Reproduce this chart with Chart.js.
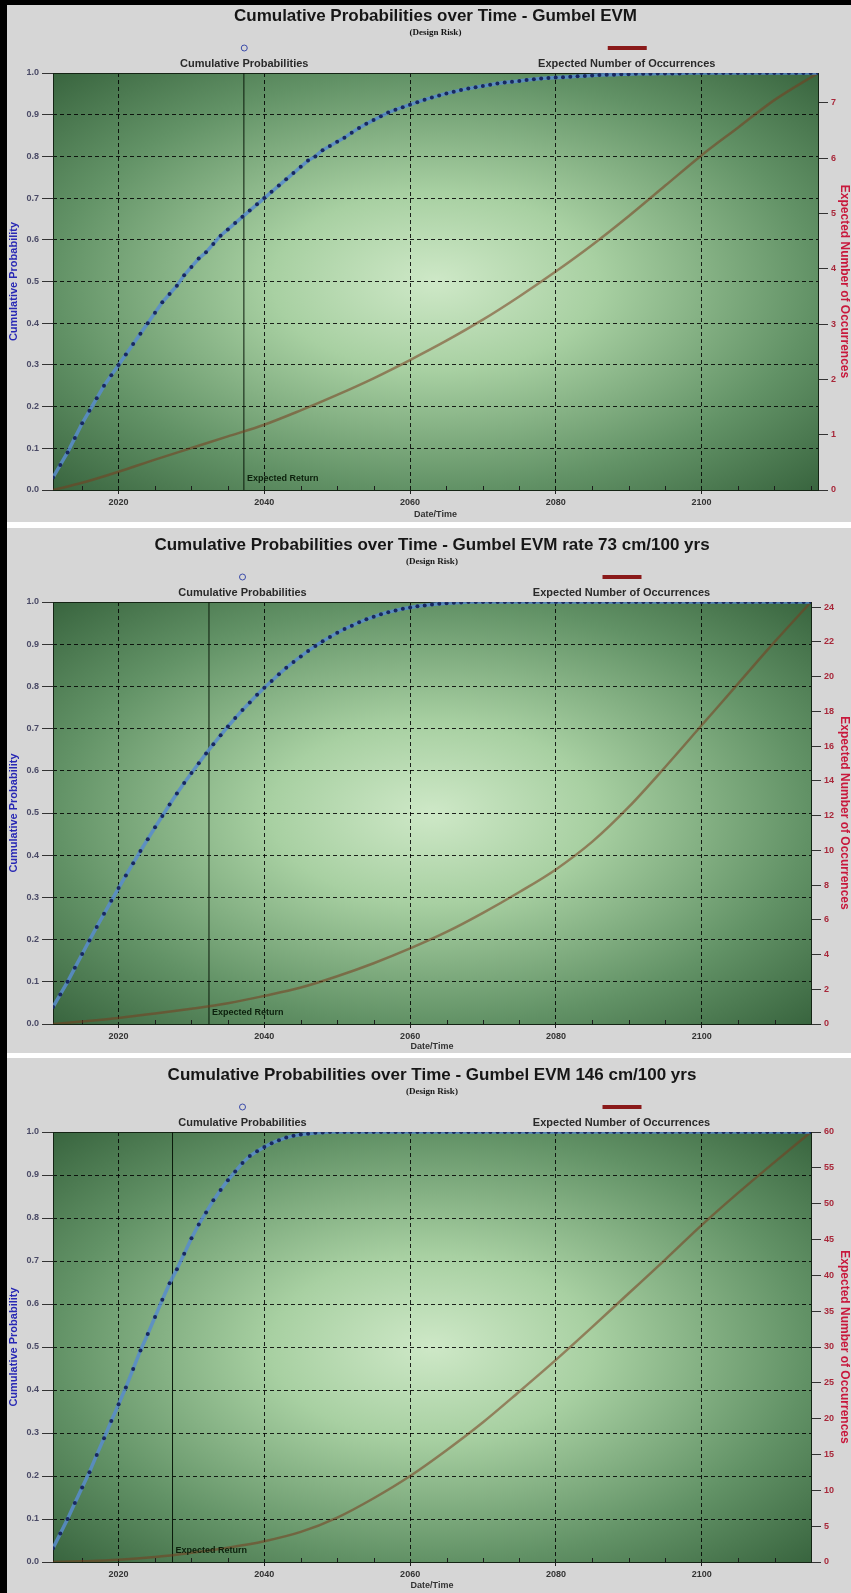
<!DOCTYPE html>
<html>
<head>
<meta charset="utf-8">
<script src="https://cdn.jsdelivr.net/npm/chart.js@4.4.0/dist/chart.umd.min.js"></script>
<style>
  body { margin: 0; background: #000; width: 851px; height: 1593px; overflow: hidden; }
  #sheet { position: absolute; left: 7px; top: 5px; width: 844px; height: 1588px; background: #fff; }
  canvas { position: absolute; left: 0; background: #d6d6d6; }
</style>
</head>
<body>
<div id="sheet">
  <canvas id="c1" width="844" height="517" style="top:0px"></canvas>
  <canvas id="c2" width="844" height="525" style="top:523px"></canvas>
  <canvas id="c3" width="844" height="535" style="top:1053px"></canvas>
</div>
<script>
var years = [2011,2012,2013,2014,2015,2016,2017,2018,2019,2020,
  2021,2022,2023,2024,2025,2026,2027,2028,2029,2030,
  2031,2032,2033,2034,2035,2036,2037,2038,2039,2040,
  2041,2042,2043,2044,2045,2046,2047,2048,2049,2050,
  2051,2052,2053,2054,2055,2056,2057,2058,2059,2060,
  2061,2062,2063,2064,2065,2066,2067,2068,2069,2070,
  2071,2072,2073,2074,2075,2076,2077,2078,2079,2080,
  2081,2082,2083,2084,2085,2086,2087,2088,2089,2090,
  2091,2092,2093,2094,2095,2096,2097,2098,2099,2100,
  2101,2102,2103,2104,2105,2106,2107,2108,2109,2110,
  2111,2112,2113,2114,2115,2116];

// cumulative probability, one value per year
var cumProb1 = [0.03,0.06,0.09,0.125,0.16,0.19,0.22,0.25,0.275,0.30,
  0.325,0.35,0.375,0.40,0.425,0.45,0.47,0.49,0.515,0.535,
  0.555,0.57,0.59,0.61,0.625,0.64,0.655,0.67,0.685,0.70,
  0.715,0.73,0.745,0.76,0.775,0.79,0.80,0.815,0.825,0.835,
  0.845,0.857,0.868,0.878,0.887,0.896,0.905,0.912,0.918,0.924,
  0.93,0.936,0.941,0.946,0.951,0.955,0.959,0.963,0.966,0.969,
  0.972,0.975,0.977,0.979,0.981,0.983,0.985,0.987,0.988,0.989,
  0.99,0.991,0.992,0.993,0.994,0.995,0.996,0.996,0.997,0.997,
  0.998,0.998,0.998,0.999,0.999,0.999,0.999,1,1,1,
  1,1,1,1,1,1,1,1,1,1,
  1,1,1,1,1,1];
var cumProb2 = [0.04,0.07,0.10,0.133,0.166,0.198,0.23,0.261,0.292,0.322,
  0.352,0.381,0.41,0.438,0.466,0.493,0.52,0.546,0.571,0.595,
  0.618,0.641,0.663,0.684,0.705,0.725,0.744,0.762,0.78,0.797,
  0.813,0.829,0.844,0.858,0.871,0.884,0.896,0.907,0.917,0.927,
  0.936,0.944,0.952,0.959,0.965,0.971,0.976,0.98,0.984,0.987,
  0.99,0.992,0.994,0.996,0.997,0.998,0.999,1,1,1,
  1,1,1,1,1,1,1,1,1,1,
  1,1,1,1,1,1,1,1,1,1,
  1,1,1,1,1,1,1,1,1,1,
  1,1,1,1,1,1,1,1,1,1,
  1,1,1,1,1,1];
var cumProb3 = [0.032,0.066,0.10,0.137,0.173,0.209,0.249,0.288,0.328,0.367,
  0.406,0.449,0.492,0.53,0.57,0.61,0.648,0.681,0.717,0.753,
  0.785,0.813,0.841,0.865,0.888,0.908,0.928,0.944,0.955,0.965,
  0.974,0.981,0.987,0.991,0.994,0.996,0.998,0.999,1,1,
  1,1,1,1,1,1,1,1,1,1,
  1,1,1,1,1,1,1,1,1,1,
  1,1,1,1,1,1,1,1,1,1,
  1,1,1,1,1,1,1,1,1,1,
  1,1,1,1,1,1,1,1,1,1,
  1,1,1,1,1,1,1,1,1,1,
  1,1,1,1,1,1];

// expected number of occurrences
var occYears1 = [2011,2015,2020,2025,2030,2035,2040,2045,2050,2055,2060,2065,2070,2075,2080,2085,2090,2095,2100,2105,2110,2116];
var occYears2 = [2011,2015,2020,2025,2030,2035,2040,2045,2050,2055,2060,2065,2070,2075,2080,2085,2090,2095,2100,2105,2110,2115];
var occ1 = [0,0.13,0.33,0.55,0.76,0.97,1.18,1.44,1.72,2.02,2.35,2.70,3.08,3.50,3.95,4.43,4.95,5.50,6.05,6.55,7.05,7.54];
var occ2 = [0,0.15,0.35,0.6,0.88,1.2,1.62,2.1,2.75,3.5,4.35,5.3,6.4,7.6,8.9,10.5,12.5,14.8,17.2,19.6,22.0,24.3];
var occ3 = [0,0.1,0.3,0.7,1.3,2.0,2.9,4.2,6.2,8.9,12.0,15.6,19.5,23.8,28.2,32.8,37.5,42.2,47.0,51.5,55.8,60];

var returnYears = [2037.2, 2032.4, 2027.4];
var xMax = [2116, 2115, 2115];
var titles = ['Cumulative Probabilities over Time - Gumbel EVM',
  'Cumulative Probabilities over Time - Gumbel EVM rate 73 cm/100 yrs',
  'Cumulative Probabilities over Time - Gumbel EVM 146 cm/100 yrs'];
var subtitleText = '(Design Risk)';
var seriesNames = ['Cumulative Probabilities', 'Expected Number of Occurrences'];

var xTicks = [2020, 2040, 2060, 2080, 2100];
var probTicks = [0, 0.1, 0.2, 0.3, 0.4, 0.5, 0.6, 0.7, 0.8, 0.9, 1];
var occTicks1 = [0, 1, 2, 3, 4, 5, 6, 7];
var occTicks2 = [0, 2, 4, 6, 8, 10, 12, 14, 16, 18, 20, 22, 24];
var occTicks3 = [0, 5, 10, 15, 20, 25, 30, 35, 40, 45, 50, 55, 60];
var occMax = [7.54, 24.3, 60];

Chart.defaults.font.family = '"Liberation Sans", Arial, sans-serif';

function pts(xs, ys, maxX) {
  return xs.map(function (x, i) { return {x: x, y: ys[i]}; })
    .filter(function (p) { return p.x <= maxX; });
}

var decor = {
  id: 'decor',
  beforeDraw: function (chart) {
    var a = chart.chartArea, c = chart.ctx;
    var w = a.right - a.left, h = a.bottom - a.top;
    c.save();
    c.translate(a.left + w / 2, a.top + h / 2);
    c.scale(w / 2, h / 2);
    var g = c.createRadialGradient(0, 0, 0, 0, 0, 1.42);
    g.addColorStop(0, 'rgb(206,232,199)');
    g.addColorStop(0.3, 'rgb(168,208,162)');
    g.addColorStop(0.7, 'rgb(98,146,102)');
    g.addColorStop(1, 'rgb(56,100,62)');
    c.fillStyle = g;
    c.fillRect(-1, -1, 2, 2);
    c.restore();
  },
  beforeDatasetsDraw: function (chart) {
    var a = chart.chartArea, c = chart.ctx, xs = chart.scales.x;
    c.save();
    c.strokeStyle = '#1c1c1c';
    c.lineWidth = 1;
    // small marks every 5 years along the bottom
    for (var yr = 2015; yr < xs.max; yr += 5) {
      if (yr % 20 === 0) continue;
      var px = Math.round(xs.getPixelForValue(yr)) + 0.5;
      c.beginPath(); c.moveTo(px, a.bottom); c.lineTo(px, a.bottom - 4); c.stroke();
    }
    c.strokeStyle = '#142414';
    c.strokeRect(Math.round(a.left) + 0.5, Math.round(a.top) + 0.5,
      Math.round(a.right - a.left), Math.round(a.bottom - a.top));
    c.restore();
  },
  afterDraw: function (chart, args, o) {
    var a = chart.chartArea, c = chart.ctx, xs = chart.scales.x;
    var ds = chart.data.datasets;
    var cx = (a.left + a.right) / 2, w = a.right - a.left;
    c.save();
    c.textAlign = 'center';
    c.textBaseline = 'middle';
    c.fillStyle = '#161616';
    c.font = 'bold 17px "Liberation Sans", Arial, sans-serif';
    c.fillText(o.title, cx, a.top - 57);
    c.font = 'bold 9px "Liberation Serif", serif';
    c.fillText(o.subtitle, cx, a.top - 40);

    // legend: marker above label
    var l1 = a.left + w * 0.25, l2 = a.left + w * 0.75;
    c.font = 'bold 11px "Liberation Sans", Arial, sans-serif';
    c.fillStyle = '#2a2a2a';
    c.fillText(ds[0].label, l1, a.top - 9);
    c.fillText(ds[1].label, l2, a.top - 9);
    c.strokeStyle = '#3a4aa8';
    c.lineWidth = 1;
    c.beginPath(); c.arc(l1, a.top - 25, 3, 0, Math.PI * 2); c.stroke();
    c.fillStyle = '#8a1a1a';
    c.fillRect(l2 - 19, a.top - 27, 39, 4);

    // expected return label
    var rx = xs.getPixelForValue(ds[2].data[0].x);
    c.textAlign = 'left';
    c.font = 'bold 9px "Liberation Sans", Arial, sans-serif';
    c.fillStyle = '#0c200c';
    c.fillText(ds[2].label, rx + 3, a.bottom - 11);
    c.restore();
  }
};

var panels = [
  {id: 'c1', title: titles[0], prob: cumProb1, occX: occYears1, occ: occ1, occTicks: occTicks1, max: occMax[0], xmax: xMax[0], ret: returnYears[0], padTop: 68, xAxisH: 32, rightW: 33, titlePad: 2},
  {id: 'c2', title: titles[1], prob: cumProb2, occX: occYears2, occ: occ2, occTicks: occTicks2, max: occMax[1], xmax: xMax[1], ret: returnYears[1], padTop: 74, xAxisH: 29, rightW: 40, titlePad: 1},
  {id: 'c3', title: titles[2], prob: cumProb3, occX: occYears2, occ: occ3, occTicks: occTicks3, max: occMax[2], xmax: xMax[2], ret: returnYears[2], padTop: 74, xAxisH: 31, rightW: 40, titlePad: 2}
];

function makeChart(p) {
  var ctx = document.getElementById(p.id);
  return new Chart(ctx, {
    type: 'line',
    data: {
      datasets: [
        {
          label: seriesNames[0],
          data: pts(years, p.prob, p.xmax),
          yAxisID: 'y',
          borderColor: 'rgba(88,140,205,0.85)',
          borderWidth: 3.5,
          pointRadius: 2,
          pointBackgroundColor: '#18285f',
          pointBorderWidth: 0,
          tension: 0
        },
        {
          label: seriesNames[1],
          data: pts(p.occX, p.occ, p.xmax),
          yAxisID: 'y2',
          borderColor: 'rgba(120,60,30,0.55)',
          borderWidth: 2.5,
          pointRadius: 0,
          cubicInterpolationMode: 'monotone'
        },
        {
          label: 'Expected Return',
          data: [{x: p.ret, y: 0}, {x: p.ret, y: 1}],
          yAxisID: 'y',
          borderColor: '#0b1a0b',
          borderWidth: 1,
          pointRadius: 0
        }
      ]
    },
    options: {
      responsive: false,
      animation: false,
      devicePixelRatio: 1,
      layout: {padding: {top: p.padTop, left: 0, right: 0, bottom: 0}},
      plugins: {
        legend: {display: false},
        tooltip: {enabled: false},
        decor: {title: p.title, subtitle: subtitleText}
      },
      scales: {
        x: {
          type: 'linear',
          min: years[0],
          max: p.xmax,
          afterBuildTicks: function (s) { s.ticks = xTicks.map(function (v) { return {value: v}; }); },
          afterFit: function (s) { s.height = p.xAxisH; },
          ticks: {color: '#333', font: {size: 9, weight: 'bold'}, padding: 3, maxRotation: 0,
            callback: function (v) { return String(v); }},
          grid: {color: 'rgba(0,0,0,0.85)', lineWidth: 1, tickLength: 4, tickColor: '#222', tickBorderDash: []},
          border: {display: false, dash: [4, 3]},
          title: {display: true, text: 'Date/Time', color: '#333', font: {size: 9, weight: 'bold'},
            padding: {top: 0, bottom: p.titlePad}}
        },
        y: {
          position: 'left',
          min: 0,
          max: 1,
          afterBuildTicks: function (s) { s.ticks = probTicks.map(function (v) { return {value: v}; }); },
          afterFit: function (s) { s.width = 46; },
          ticks: {color: '#4a4a66', font: {size: 9, weight: 'bold'}, padding: 3,
            callback: function (v) { return v.toFixed(1); }},
          grid: {color: 'rgba(0,0,0,0.85)', lineWidth: 1, tickLength: 11, tickColor: '#333', tickBorderDash: []},
          border: {display: false, dash: [4, 3]},
          title: {display: true, text: 'Cumulative Probability', color: '#2828b4',
            font: {size: 11, weight: 'bold'}, padding: 0}
        },
        y2: {
          position: 'right',
          min: 0,
          max: p.max,
          afterBuildTicks: function (s) { s.ticks = p.occTicks.map(function (v) { return {value: v}; }); },
          afterFit: function (s) { s.width = p.rightW; },
          ticks: {color: '#a8283a', font: {size: 9, weight: 'bold'}, padding: 3},
          grid: {drawOnChartArea: false, tickLength: 10, tickColor: '#333'},
          border: {display: false},
          title: {display: true, text: 'Expected Number of Occurrences', color: '#c8183c',
            font: {size: 12, weight: 'bold'}, padding: {top: -1, bottom: 0}}
        }
      }
    },
    plugins: [decor]
  });
}

panels.forEach(makeChart);
</script>
</body>
</html>
